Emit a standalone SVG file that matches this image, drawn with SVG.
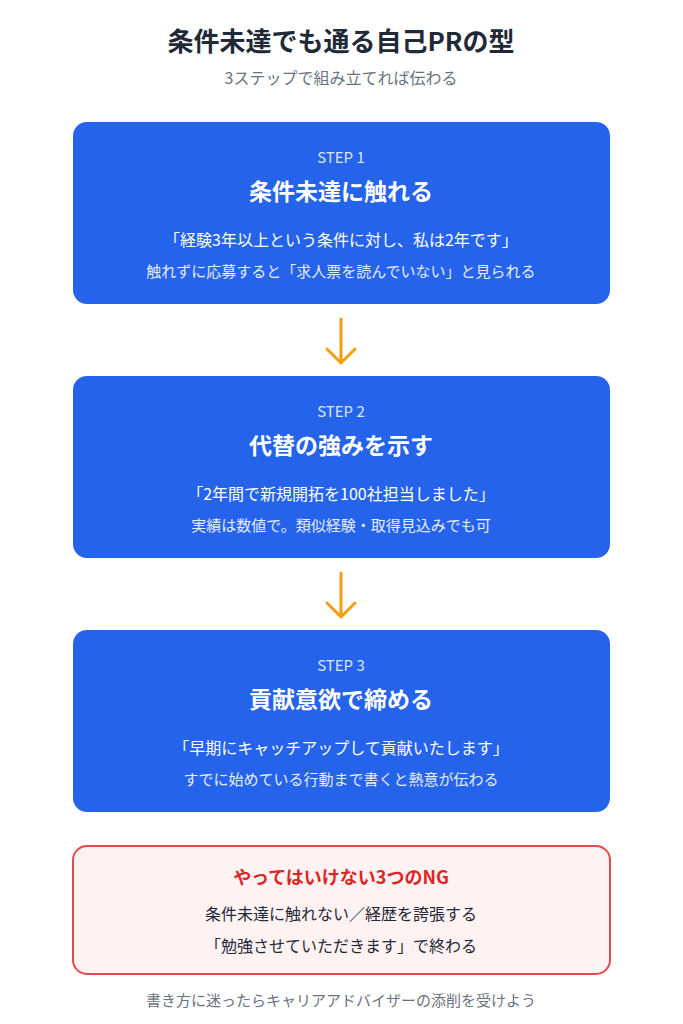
<svg xmlns="http://www.w3.org/2000/svg" width="683" height="1024" viewBox="0 0 683 1024">
<style>
text{font-family:"Noto Sans CJK JP","Noto Sans",sans-serif;text-anchor:middle}
.box{fill:#2563eb}
.step{fill:#dbe6fd;font-size:15px}
.h{fill:#fff;font-size:23px;font-weight:bold}
.q{fill:#fff;font-size:16px}
.s{fill:#e6edfd;font-size:15px}
.arr{stroke:#f59e0b;stroke-width:3;fill:none;stroke-linecap:round;stroke-linejoin:round}
</style>
<rect width="683" height="1024" fill="#fff"/>
<text x="341" y="51" font-size="26" font-weight="bold" fill="#1f2937">条件未達でも通る自己PRの型</text>
<text x="341" y="84" font-size="16" fill="#6b7280">3ステップで組み立てれば伝わる</text>
<g id="step1"><rect class="box" x="73" y="122" width="537" height="182" rx="14"/>
<text class="step" x="341" y="163">STEP 1</text><text class="h" x="341" y="200">条件未達に触れる</text>
<text class="q" x="341" y="246">「経験3年以上という条件に対し、私は2年です」</text>
<text class="s" x="341" y="277">触れずに応募すると「求人票を読んでいない」と見られる</text></g>
<g id="step2"><rect class="box" x="73" y="376" width="537" height="182" rx="14"/>
<text class="step" x="341" y="417">STEP 2</text><text class="h" x="341" y="454">代替の強みを示す</text>
<text class="q" x="341" y="500">「2年間で新規開拓を100社担当しました」</text>
<text class="s" x="341" y="531">実績は数値で。類似経験・取得見込みでも可</text></g>
<g id="step3"><rect class="box" x="73" y="630" width="537" height="182" rx="14"/>
<text class="step" x="341" y="671">STEP 3</text><text class="h" x="341" y="708">貢献意欲で締める</text>
<text class="q" x="341" y="754">「早期にキャッチアップして貢献いたします」</text>
<text class="s" x="341" y="785">すでに始めている行動まで書くと熱意が伝わる</text></g>
<g id="connectors">
<path class="arr" d="M341 319V363M327 349L341 363L355 349"/>
<path class="arr" d="M341 573V617M327 603L341 617L355 603"/>
</g>
<g id="ng"><rect x="73" y="846" width="537" height="128" rx="14" fill="#fef2f2" stroke="#e5484d" stroke-width="2"/>
<text x="341" y="884" font-size="18" font-weight="bold" fill="#dc2626">やってはいけない3つのNG</text>
<text x="341" y="920" font-size="16" fill="#1f2937">条件未達に触れない／経歴を誇張する</text>
<text x="341" y="952" font-size="16" fill="#1f2937">「勉強させていただきます」で終わる</text></g>
<text x="341" y="1006" font-size="15" fill="#6b7280">書き方に迷ったらキャリアアドバイザーの添削を受けよう</text>
</svg>
